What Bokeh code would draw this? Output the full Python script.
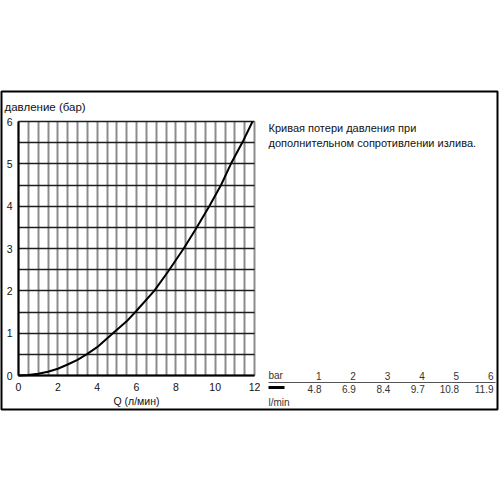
from bokeh.plotting import figure
from bokeh.models import Range1d, SingleIntervalTicker, FixedTicker
from bokeh.core.properties import value
from bokeh.embed import file_html
from bokeh.resources import INLINE

# ---- data ----
flow_q = [0, 0.5, 1.0, 1.5, 2.0, 2.5, 3.0, 3.5, 4.0, 4.8, 5.5, 6.0, 6.9, 7.6, 8.4, 9.0, 9.7, 10.3, 10.8, 11.4, 11.9]
pressure = [0, 0.01, 0.04, 0.09, 0.16, 0.26, 0.37, 0.51, 0.67, 1.0, 1.28, 1.53, 2.0, 2.45, 3.0, 3.45, 4.0, 4.5, 5.0, 5.52, 6.0]

table_bar = [1, 2, 3, 4, 5, 6]
table_lmin = [4.8, 6.9, 8.4, 9.7, 10.8, 11.9]

x_ticks = [0, 2, 4, 6, 8, 10, 12]
y_ticks = [0, 1, 2, 3, 4, 5, 6]

y_title = "давление (бар)"
x_title = "Q (л/мин)"
note_lines = ["Кривая потери давления при", "дополнительном сопротивлении излива."]
table_head = "bar"
table_unit = "l/min"

FONT = "Liberation Sans"

# ---- layout (pixels of the 500x500 picture) ----
# chart: x 0..12 -> px 18..254, y 0..6 -> px 375..121
CX0, CX1, CY0, CY1 = 18.0, 254.0, 375.0, 121.0
KX = (CX1 - CX0) / 12.0
KY = (CY0 - CY1) / 6.0
# whole framed box
BL, BR, BT, BB = 1, 497, 91, 409


def dx(sx):
    return (sx - CX0) / KX


def dy(sy):
    return (CY0 - sy) / KY


p = figure(
    width=500, height=500,
    frame_width=BR - BL, frame_height=BB - BT,
    min_border_left=BL, min_border_top=BT,
    min_border_right=500 - BR, min_border_bottom=500 - BB,
    x_range=Range1d(dx(BL), dx(BR)), y_range=Range1d(dy(BB), dy(BT)),
    output_backend="svg", toolbar_location=None,
    background_fill_color="white", border_fill_color="white",
)
p.styles = {"position": "absolute", "left": "0px", "top": "0px"}
p.outline_line_color = "black"
p.outline_line_width = 2

# grid (only inside the chart box)
p.xgrid.ticker = SingleIntervalTicker(interval=0.5)
p.ygrid.ticker = SingleIntervalTicker(interval=0.5)
p.xgrid.bounds = (0, 12)
p.xgrid.cross_bounds = (0, 6)
p.ygrid.bounds = (0, 6)
p.ygrid.cross_bounds = (0, 12)
p.xgrid.grid_line_color = "#8c8c8c"
p.xgrid.grid_line_width = 2
p.ygrid.grid_line_color = "#1e1e1e"
p.ygrid.grid_line_width = 1.6

# axes crossing at 0
for ax in (p.xaxis, p.yaxis):
    ax.fixed_location = 0
    ax.axis_line_color = "black"
    ax.axis_line_width = 2
    ax.major_tick_line_color = None
    ax.minor_tick_line_color = None
    ax.major_label_text_font = FONT
    ax.major_label_text_font_size = "10.5px"
    ax.major_label_text_color = "#111111"
p.xaxis.major_label_standoff = 1
p.yaxis.major_label_standoff = 0
p.xaxis.bounds = (0, 12)
p.yaxis.bounds = (0, 6)
p.xaxis.ticker = FixedTicker(ticks=x_ticks)
p.yaxis.ticker = FixedTicker(ticks=y_ticks)

# curve
p.line(flow_q, pressure, line_color="black", line_width=2)

# axis titles
p.text(x=[dx(4)], y=[dy(106)], text=[y_title], text_font=value(FONT), text_font_size="11.5px",
       text_baseline="middle", text_align="left", text_color="#111111")
p.text(x=[6], y=[dy(400)], text=[x_title], text_font=value(FONT), text_font_size="10.5px",
       text_baseline="middle", text_align="center", text_color="#111111")

# note
p.text(x=[dx(268)] * len(note_lines), y=[dy(127 + 15.5 * i) for i in range(len(note_lines))],
       text=note_lines, text_font=value(FONT), text_font_size="11px",
       text_baseline="middle", text_align="left", text_color="#111111")

# table
col_x = [dx(321 + 34.4 * i) for i in range(len(table_bar))]
p.text(x=[dx(268), dx(268)], y=[dy(375), dy(402)], text=[table_head, table_unit],
       text_font=value(FONT), text_font_size="10px", text_baseline="middle",
       text_align="left", text_color="#333333")
p.text(x=col_x, y=[dy(375)] * len(table_bar), text=[str(b) for b in table_bar],
       text_font=value(FONT), text_font_size="10px", text_baseline="middle",
       text_align="right", text_color="#333333")
p.text(x=col_x, y=[dy(388.5)] * len(table_lmin), text=[f"{q:.1f}" for q in table_lmin],
       text_font=value(FONT), text_font_size="10px", text_baseline="middle",
       text_align="right", text_color="#333333")
p.segment(x0=[dx(268)], y0=[dy(382)], x1=[dx(495)], y1=[dy(382)], line_color="#555555", line_width=1)
p.segment(x0=[dx(268)], y0=[dy(387)], x1=[dx(284)], y1=[dy(387)], line_color="black", line_width=3)

open("out.html", "w").write(file_html(p, INLINE))
